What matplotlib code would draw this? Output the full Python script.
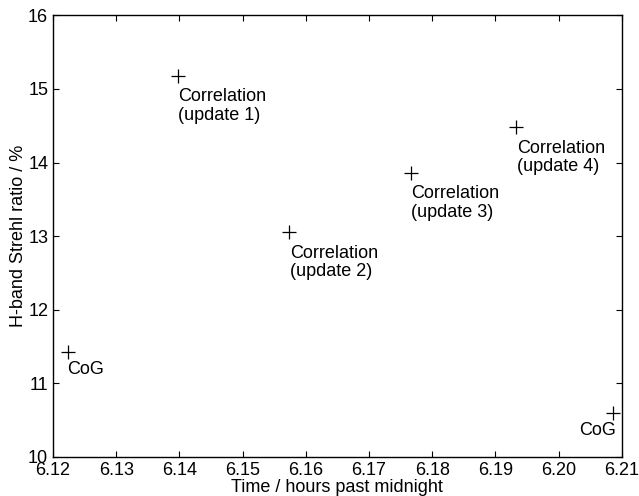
import matplotlib
matplotlib.use("Agg")
import matplotlib.pyplot as plt

plt.rcParams['font.family'] = ['Liberation Sans', 'DejaVu Sans']

# ---- data ----
times = [6.1223, 6.1397, 6.1574, 6.1766, 6.1933, 6.2086]
strehl = [11.43, 15.18, 13.05, 13.86, 14.48, 10.59]
labels = ["CoG", "Correlation\n(update 1)", "Correlation\n(update 2)",
          "Correlation\n(update 3)", "Correlation\n(update 4)", "CoG"]
xticks = [6.12, 6.13, 6.14, 6.15, 6.16, 6.17, 6.18, 6.19, 6.20, 6.21]
yticks = [10, 11, 12, 13, 14, 15, 16]

fig = plt.figure(figsize=(6.39, 4.96), dpi=100)
ax = fig.add_axes([0.083, 0.079, 0.890, 0.890])

ax.plot(times, strehl, linestyle='none', marker='+', markersize=10.5,
        markeredgewidth=0.9, color='black')

for i, (t, s, lab) in enumerate(zip(times, strehl, labels)):
    if lab == "CoG":
        # last CoG label sits to the left of its marker
        if i == len(times) - 1:
            ax.annotate(lab, (t, s), xytext=(2.5, -6.5), textcoords='offset points',
                        ha='right', va='top', fontsize=13)
        else:
            ax.annotate(lab, (t, s), xytext=(0, -6.5), textcoords='offset points',
                        ha='left', va='top', fontsize=13)
    else:
        ax.annotate(lab, (t, s), xytext=(0.3, -9), textcoords='offset points',
                    ha='left', va='top', fontsize=13, linespacing=1.1)

ax.set_xlim(6.12, 6.21)
ax.set_ylim(10, 16)
ax.set_xticks(xticks)
ax.set_xticklabels([f"{v:.2f}" for v in xticks])
ax.set_yticks(yticks)
ax.set_yticklabels([str(v) for v in yticks])
ax.tick_params(direction='in', length=4, width=0.8, top=True, right=True,
               labelsize=13, pad=3.5)

for sp in ax.spines.values():
    sp.set_linewidth(1.0)

ax.set_xlabel("Time / hours past midnight", fontsize=13, labelpad=0)
ax.set_ylabel("H-band Strehl ratio / %", fontsize=13, labelpad=1)

fig.savefig("out.png", dpi=100)
